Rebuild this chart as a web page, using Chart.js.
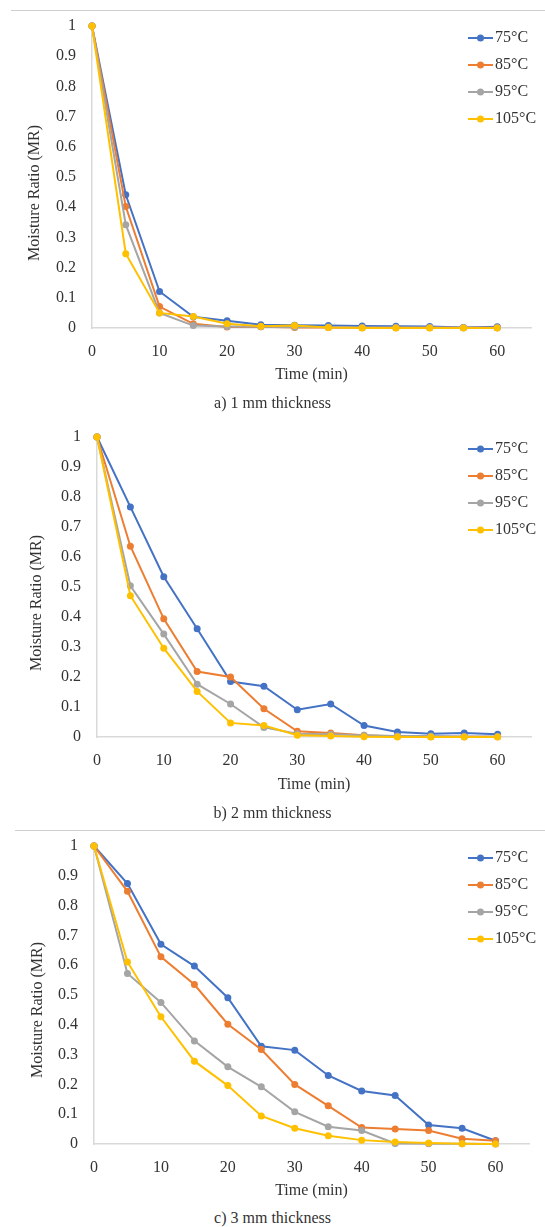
<!DOCTYPE html>
<html><head><meta charset="utf-8">
<script src="https://cdn.jsdelivr.net/npm/chart.js@4"></script>
<style>
body{margin:0;background:#fff;width:545px;height:1227px;position:relative;overflow:hidden;font-family:"Liberation Serif",serif;}
canvas{position:absolute;left:0;}
.sep{position:absolute;height:1px;background:#cfcfcf;right:0;}
.cap{position:absolute;left:0;width:545px;text-align:center;font-size:16px;line-height:18px;color:#333;}
</style></head><body>
<div class="sep" style="top:10px;left:11px;"></div>
<div class="sep" style="top:830px;left:15px;"></div>
<canvas id="ca" width="545" height="387" style="top:0px;width:545px;height:387px;"></canvas>
<canvas id="cb" width="545" height="387" style="top:410px;width:545px;height:387px;"></canvas>
<canvas id="cc" width="545" height="383" style="top:820px;width:545px;height:383px;"></canvas>
<div class="cap" style="top:394px;">a) 1 mm thickness</div>
<div class="cap" style="top:804px;">b) 2 mm thickness</div>
<div class="cap" style="top:1209px;">c) 3 mm thickness</div>
<script>
const times = [0,5,10,15,20,25,30,35,40,45,50,55,60];
const xTicks = [0,10,20,30,40,50,60];
const yTicks = [0,0.1,0.2,0.3,0.4,0.5,0.6,0.7,0.8,0.9,1];
const yTickLabels = ['0','0.1','0.2','0.3','0.4','0.5','0.6','0.7','0.8','0.9','1'];
const seriesNames = ['75°C','85°C','95°C','105°C'];
const seriesColors = ['#4472C4','#ED7D31','#A5A5A5','#FFC000'];
const xTitle = 'Time (min)';
const yTitle = 'Moisture Ratio (MR)';

const a75  = [1,0.441,0.121,0.037,0.024,0.011,0.009,0.008,0.007,0.006,0.005,0.002,0.004];
const a85  = [1,0.402,0.071,0.014,0.003,0.004,0.002,0.002,0.001,0.001,0.001,0.001,0.001];
const a95  = [1,0.342,0.050,0.008,0.005,0.004,0.003,0.003,0.002,0.002,0.002,0.001,0.001];
const a105 = [1,0.246,0.050,0.038,0.014,0.006,0.008,0.002,0,0,0,0,0];

const b75  = [1,0.767,0.534,0.361,0.185,0.169,0.091,0.110,0.038,0.017,0.011,0.013,0.009];
const b85  = [1,0.636,0.394,0.218,0.200,0.094,0.019,0.013,0.006,0.002,0.001,0.001,0.001];
const b95  = [1,0.504,0.343,0.176,0.110,0.032,0.011,0.009,0.006,0.003,0.003,0.002,0.002];
const b105 = [1,0.471,0.296,0.152,0.047,0.038,0.006,0.003,0.001,0,0,0,0];

const c75  = [1,0.874,0.670,0.597,0.491,0.328,0.315,0.230,0.178,0.163,0.064,0.053,0.011];
const c85  = [1,0.848,0.628,0.535,0.402,0.317,0.200,0.128,0.055,0.050,0.045,0.018,0.011];
const c95  = [1,0.572,0.475,0.346,0.259,0.192,0.108,0.058,0.045,0.002,0.001,0.001,0];
const c105 = [1,0.611,0.427,0.278,0.196,0.094,0.053,0.028,0.013,0.007,0.003,0.001,0];

const FONT = '"Liberation Serif", serif';
const TXT = '#333333';
const FS = 16;

const legendPlugin = {
  id: 'customLegend',
  afterDraw(chart) {
    const ctx = chart.ctx;
    const o = chart.options.plugins.customLegend;
    ctx.save();
    ctx.font = FS + 'px ' + FONT;
    ctx.textBaseline = 'middle';
    chart.data.datasets.forEach((ds, i) => {
      const y = o.top + i * o.step;
      ctx.strokeStyle = ds.borderColor;
      ctx.lineWidth = 2;
      ctx.beginPath();
      ctx.moveTo(o.x0, y); ctx.lineTo(o.x1, y); ctx.stroke();
      ctx.fillStyle = ds.borderColor;
      ctx.beginPath();
      ctx.arc((o.x0 + o.x1) / 2, y, 3.5, 0, Math.PI * 2); ctx.fill();
      ctx.fillStyle = TXT;
      ctx.textAlign = 'left';
      ctx.fillText(ds.label, o.x1 + 2, y);
    });
    // y axis title (placed as in the original, slightly below plot centre)
    ctx.save();
    ctx.translate(o.yTitleX, o.yTitleY);
    ctx.rotate(-Math.PI / 2);
    ctx.textAlign = 'center';
    ctx.fillStyle = TXT;
    ctx.fillText(o.yTitleText, 0, 0);
    ctx.restore();
    ctx.restore();
  }
};

function makeChart(id, series, cfg) {
  const datasets = series.map((vals, i) => ({
    label: seriesNames[i],
    data: times.map((t, k) => ({x: t, y: vals[k]})),
    borderColor: seriesColors[i],
    backgroundColor: seriesColors[i],
    pointBackgroundColor: seriesColors[i],
    pointBorderColor: seriesColors[i],
    borderWidth: 2,
    pointRadius: 3.5,
    pointBorderWidth: 0,
    tension: 0,
    clip: false,
    order: series.length - i
  }));
  return new Chart(document.getElementById(id), {
    type: 'line',
    data: {datasets},
    plugins: [legendPlugin],
    options: {
      responsive: false,
      animation: false,
      devicePixelRatio: 1,
      layout: {padding: {left: cfg.padLeft, top: cfg.padTop, right: cfg.padRight, bottom: 0}},
      plugins: {
        legend: {display: false},
        tooltip: {enabled: false},
        customLegend: {x0: 468, x1: 493, top: cfg.legTop, step: 27,
                       yTitleText: yTitle, yTitleX: cfg.yTitleX, yTitleY: cfg.yTitleY}
      },
      scales: {
        x: {
          type: 'linear', min: 0, max: 65,
          afterBuildTicks: s => { s.ticks = xTicks.map(v => ({value: v})); },
          afterFit: s => { s.height = cfg.xHeight; },
          grid: {display: false},
          border: {display: true, color: '#D9D9D9', width: 1.5},
          ticks: {padding: 6, color: TXT, font: {family: FONT, size: FS}, maxRotation: 0,
                  callback: v => String(v)},
          title: {display: true, text: xTitle, color: TXT, font: {family: FONT, size: FS},
                  padding: {top: 4, bottom: 3}}
        },
        y: {
          type: 'linear', min: 0, max: 1,
          afterBuildTicks: s => { s.ticks = yTicks.map(v => ({value: v})); },
          afterFit: s => { s.width = cfg.yWidth; },
          grid: {display: false},
          border: {display: true, color: '#D9D9D9', width: 1.5},
          ticks: {padding: 8, color: TXT, font: {family: FONT, size: FS},
                  callback: (v, i) => yTickLabels[i]},
          title: {display: false}
        }
      }
    }
  });
}

makeChart('ca', [a75, a85, a95, a105], {padLeft: 22, yWidth: 70, padTop: 26, padRight: 14, xHeight: 59, legTop: 38, yTitleX: 35, yTitleY: 193});
makeChart('cb', [b75, b85, b95, b105], {padLeft: 23, yWidth: 74, padTop: 27, padRight: 14, xHeight: 60, legTop: 39, yTitleX: 37, yTitleY: 193});
makeChart('cc', [c75, c85, c95, c105], {padLeft: 25, yWidth: 69, padTop: 26, padRight: 16, xHeight: 59, legTop: 38, yTitleX: 38, yTitleY: 190});
</script>
</body></html>
